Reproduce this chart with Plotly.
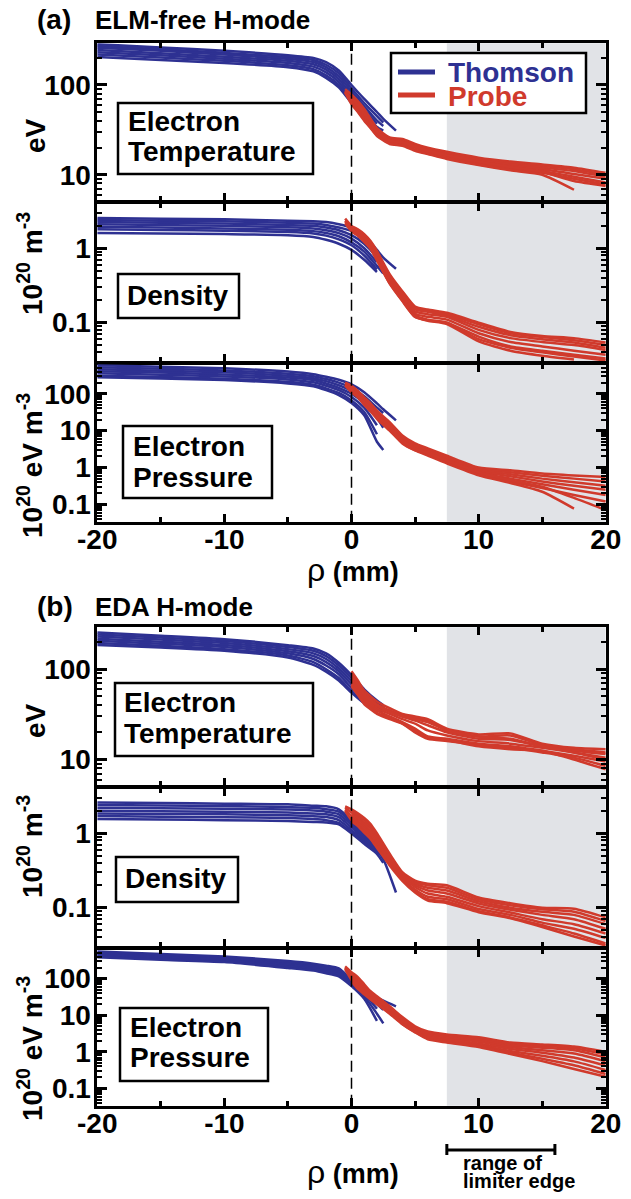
import plotly.graph_objects as go

W, H = 631, 1199
BLUE = '#2E3192'
RED = '#D03A2C'
GRAY = '#E1E3E7'
FONT = 'Liberation Sans'

# ---------------- data ----------------
thomson_x = [-20, -15, -10, -5, -3, -2, -1, 0, 1, 2, 2.5, 3.5]
probe_x = [-0.5, 0, 0.5, 1, 1.5, 2, 3, 4, 5, 6, 7.5, 10, 12.5, 15, 17.5, 20]

# (a) ELM-free H-mode
elm_te_thomson = [
    [285, 262, 240, 215, 200, 180, 145, 100, 70, 50, 42, 31],
    [272, 250, 228, 205, 190, 168, 135, 92, 63, 45, 38, None],
    [260, 240, 218, 196, 180, 158, 125, 85, 58, 40, 35, None],
    [245, 226, 206, 186, 170, 148, 116, 78, 53, 37, None, None],
    [232, 214, 196, 176, 160, 138, 108, 72, 49, 34, 31, None],
    [218, 202, 186, 166, 150, 128, 100, 66, 45, 33, None, None],
    [205, 190, 176, 158, 142, 120, 94, 63, 43, 32, None, None],
]
elm_te_probe = [
    [90, 78, 66, 54, 42, 33, 26, 25, 22, 20, 18, 15.5, 14, 13, 12, 10.5],
    [None, 74, 62, 50, 40, 31, 25, 24, 21.5, 19.5, 17.5, 15, 13.5, 12.5, 11.5, 10],
    [86, 70, 58, 47, 38, 30, 24.5, 23.5, 21, 19, 17, 14.5, 13, 12, 11, 9.5],
    [None, 67, 55, 45, 36, 29, 24, 23, 20.5, 18.5, 16.5, 14, 12.5, 11.5, 10.2, 9],
    [84, 65, 53, 43, 35, 28, 23, 22, 20, 18, 16, 13.5, 12, 11, 9.5, 8.2],
    [None, 63, 51, 41, 34, 27.5, 22.5, 21.5, 19, 17.5, 15.5, 13, 11.5, 10.5, 9, 7.8],
    [82, 61, 50, 40, 33, 27, 22, 21, 18.5, 17, 15, 12.8, 11.2, 10, 6.8, None],
    [None, 72, 60, 48, 39, 30, 24, 23, 20.5, 18.5, 16.5, 14, 12.2, 10.8, 8.5, 7.5],
]
elm_ne_thomson = [
    [2.55, 2.5, 2.45, 2.35, 2.3, 2.25, 2.1, 1.9, 1.5, 0.95, 0.75, 0.53],
    [2.4, 2.35, 2.3, 2.2, 2.15, 2.05, 1.9, 1.7, 1.3, 0.85, None, None],
    [2.25, 2.2, 2.15, 2.05, 2.0, 1.9, 1.75, 1.5, 1.15, 0.75, 0.55, None],
    [2.1, 2.05, 2.0, 1.92, 1.85, 1.75, 1.6, 1.35, 1.0, 0.65, None, None],
    [1.95, 1.9, 1.85, 1.78, 1.7, 1.6, 1.45, 1.2, 0.9, 0.58, 0.46, None],
    [1.8, 1.76, 1.72, 1.65, 1.58, 1.48, 1.32, 1.1, 0.8, 0.52, None, None],
    [1.6, 1.58, 1.55, 1.5, 1.42, 1.3, 1.15, 0.95, 0.7, 0.48, None, None],
]
elm_ne_probe = [
    [2.5, 2.0, 1.8, 1.55, 1.25, 0.92, 0.45, 0.265, 0.165, 0.15, 0.136, 0.1, 0.075, 0.066, 0.062, 0.054],
    [None, 1.95, 1.75, 1.5, 1.2, 0.88, 0.43, 0.255, 0.16, 0.145, 0.13, 0.095, 0.072, 0.064, 0.058, 0.05],
    [2.35, 1.9, 1.7, 1.45, 1.15, 0.84, 0.41, 0.245, 0.152, 0.14, 0.125, 0.088, 0.068, 0.06, 0.054, 0.046],
    [None, 1.85, 1.65, 1.4, 1.1, 0.8, 0.39, 0.23, 0.142, 0.13, 0.12, 0.08, 0.062, 0.055, 0.05, 0.043],
    [2.25, 1.8, 1.6, 1.35, 1.06, 0.76, 0.37, 0.215, 0.132, 0.12, 0.11, 0.072, 0.055, 0.048, 0.042, 0.037],
    [None, 1.75, 1.55, 1.3, 1.02, 0.72, 0.35, 0.205, 0.125, 0.11, 0.1, 0.065, 0.048, 0.042, 0.037, 0.033],
    [2.15, 1.7, 1.5, 1.25, 0.98, 0.69, 0.34, 0.198, 0.12, 0.106, 0.096, 0.056, 0.042, 0.036, 0.032, None],
    [None, 1.68, 1.47, 1.22, 0.99, 0.7, 0.335, 0.195, 0.119, 0.108, 0.1, 0.06, 0.046, 0.04, 0.035, 0.031],
]
elm_pe_thomson = [
    [590, 540, 490, 400, 340, 290, 240, 180, 110, 55, 38, 19],
    [520, 480, 430, 350, 300, 250, 200, 145, 85, 42, 30, None],
    [460, 420, 380, 310, 265, 220, 170, 120, 68, 32, None, None],
    [410, 375, 335, 275, 235, 190, 145, 100, 55, 22, 12, None],
    [360, 330, 295, 245, 205, 165, 125, 82, 42, 14, None, None],
    [310, 285, 255, 210, 175, 140, 105, 66, 32, 8, None, None],
    [280, 260, 235, 190, 160, 125, 92, 56, 26, 5, 3.0, None],
]
elm_pe_probe = [
    [200, 165, 120, 80, 55, 35, 17, 7.4, 4.5, 3.3, 2.1, 1.0, 0.84, 0.69, 0.61, 0.55],
    [None, 155, 112, 75, 51, 32, 15.5, 6.8, 4.1, 3.05, 1.95, 0.93, 0.75, 0.6, 0.5, 0.42],
    [190, 145, 104, 70, 47, 30, 14.2, 6.2, 3.8, 2.85, 1.8, 0.86, 0.66, 0.5, 0.4, 0.32],
    [None, 135, 97, 64, 43, 27, 13, 5.6, 3.5, 2.65, 1.65, 0.79, 0.58, 0.42, 0.32, 0.25],
    [175, 125, 90, 58, 40, 25, 12, 5.1, 3.2, 2.45, 1.5, 0.72, 0.5, 0.35, 0.25, 0.18],
    [None, 115, 83, 52, 36, 23, 11, 4.7, 2.95, 2.25, 1.38, 0.65, 0.42, 0.28, 0.18, 0.12],
    [165, 110, 80, 50, 33, 21, 10, 4.5, 2.9, 2.1, 1.3, 0.62, 0.38, 0.22, 0.077, None],
    [None, 128, 92, 60, 41, 26, 12.5, 5.3, 3.3, 2.5, 1.55, 0.75, 0.45, 0.3, 0.15, 0.07],
]

# (b) EDA H-mode
eda_te_thomson = [
    [255, 235, 215, 185, 170, 150, 118, 86, 60, 45, 40, None],
    [242, 224, 205, 176, 160, 140, 110, 80, 56, 43, 38, None],
    [230, 213, 195, 167, 150, 130, 102, 74, 52, 41, None, None],
    [218, 202, 185, 158, 140, 120, 95, 68, 49, 40, 36, None],
    [207, 192, 176, 150, 130, 110, 88, 62, 46, 38, None, None],
    [195, 182, 167, 142, 120, 100, 80, 57, 43, 37, 34, None],
    [186, 174, 160, 135, 112, 94, 75, 55, 42, 36, None, None],
]
eda_te_probe = [
    [None, 95, 75, 58, 50, 44, 37, 32, 30, 28, 22, 19, 19.5, 15, 13.5, 13],
    [None, 88, 70, 54, 47, 41, 35, 31, 29, 27, 21, 18, 18.5, 14.5, 13, 12],
    [None, 80, 65, 50, 44, 39, 34, 30, 27, 24, 20, 17, 16.5, 14, 12.5, 11.5],
    [None, 76, 62, 48, 42, 37, 32, 28, 25, 21, 18.5, 16, 15, 13.5, 12, 10.5],
    [None, 72, 58, 45, 40, 35, 30, 26, 22, 18, 17, 15, 14, 12.5, 11, 9.5],
    [None, 68, 55, 43, 38, 33, 29, 25, 20, 17, 16, 14.5, 13.5, 12, 10.5, 8.5],
    [None, 85, 68, 52, 45, 40, 34, 30, 28, 26, 21, 18, 17, 14, 12, 10],
    [None, 65, 52, 41, 36, 32, 28, 25, 21, 17.5, 16.5, 14, 13, 12.5, 10, 7.8],
]
eda_ne_thomson = [
    [2.6, 2.55, 2.5, 2.45, 2.35, 2.3, 2.1, 1.5, 1.0, 0.74, 0.58, None],
    [2.4, 2.36, 2.32, 2.25, 2.2, 2.1, 1.95, 1.4, 0.95, 0.7, None, None],
    [2.2, 2.17, 2.14, 2.08, 2.02, 1.95, 1.8, 1.3, 0.9, 0.66, 0.5, None],
    [2.0, 1.98, 1.95, 1.9, 1.85, 1.8, 1.65, 1.2, 0.85, 0.62, None, None],
    [1.85, 1.82, 1.8, 1.75, 1.7, 1.65, 1.5, 1.1, 0.8, 0.58, 0.45, 0.16],
    [1.7, 1.67, 1.64, 1.6, 1.55, 1.5, 1.38, 1.02, 0.75, 0.55, None, None],
    [1.55, 1.53, 1.5, 1.46, 1.42, 1.4, 1.32, 1.0, 0.72, 0.53, 0.4, None],
]
eda_ne_probe = [
    [2.3, 2.1, 1.85, 1.6, 1.33, 1.0, 0.53, 0.3, 0.23, 0.21, 0.2, 0.137, 0.115, 0.1, 0.097, 0.074],
    [None, 2.0, 1.75, 1.5, 1.25, 0.95, 0.5, 0.29, 0.22, 0.2, 0.185, 0.13, 0.108, 0.095, 0.088, 0.066],
    [2.2, 1.9, 1.65, 1.4, 1.17, 0.88, 0.47, 0.28, 0.21, 0.185, 0.17, 0.122, 0.1, 0.088, 0.08, 0.06],
    [None, 1.8, 1.55, 1.32, 1.08, 0.82, 0.44, 0.27, 0.2, 0.17, 0.155, 0.114, 0.094, 0.08, 0.07, 0.052],
    [2.1, 1.7, 1.45, 1.22, 1.0, 0.76, 0.42, 0.26, 0.19, 0.155, 0.14, 0.105, 0.086, 0.07, 0.06, 0.045],
    [None, 1.6, 1.38, 1.15, 0.93, 0.7, 0.4, 0.25, 0.175, 0.14, 0.13, 0.096, 0.08, 0.063, 0.052, 0.039],
    [2.0, 1.5, 1.3, 1.08, 0.86, 0.66, 0.38, 0.24, 0.165, 0.13, 0.12, 0.09, 0.074, 0.058, 0.045, 0.033],
    [None, 1.45, 1.25, 1.02, 0.84, 0.64, 0.37, 0.23, 0.16, 0.125, 0.115, 0.087, 0.072, 0.055, 0.041, 0.031],
]
eda_pe_thomson = [
    [550, 470, 400, 300, 255, 225, 190, 95, 58, 31, 25, 17.5],
    [500, 430, 370, 275, 235, 205, 170, 88, 50, 25, None, None],
    [460, 395, 340, 250, 215, 185, 155, 80, 44, 20, 14, None],
    [430, 370, 320, 232, 198, 170, 140, 74, 38, 15, None, None],
    [400, 345, 300, 215, 182, 155, 128, 68, 33, 11, 6, None],
    [380, 325, 282, 195, 165, 140, 115, 62, 28, 7, None, None],
]
eda_pe_probe = [
    [215, 150, 110, 70, 45, 33, 17.5, 8.9, 5.0, 3.6, 3.0, 2.5, 1.8, 1.6, 1.4, 1.0],
    [None, 140, 100, 64, 42, 30, 16, 8.2, 4.6, 3.3, 2.8, 2.3, 1.65, 1.45, 1.25, 0.85],
    [200, 130, 92, 58, 39, 28, 15, 7.6, 4.3, 3.1, 2.6, 2.1, 1.5, 1.3, 1.1, 0.7],
    [None, 120, 84, 53, 36, 26, 14, 7.0, 4.0, 2.9, 2.4, 1.9, 1.35, 1.1, 0.9, 0.55],
    [190, 110, 76, 48, 33, 24, 13, 6.5, 3.8, 2.7, 2.2, 1.7, 1.2, 0.95, 0.7, 0.42],
    [None, 100, 68, 44, 30, 22, 12, 6.1, 3.6, 2.5, 2.0, 1.55, 1.05, 0.78, 0.55, 0.32],
    [180, 92, 60, 40, 28, 21, 11.5, 5.8, 3.5, 2.35, 1.9, 1.45, 0.95, 0.65, 0.43, 0.25],
    [None, 85, 52, 37, 27, 20, 11, 5.7, 3.4, 2.2, 1.8, 1.35, 0.87, 0.56, 0.34, 0.21],
]

x_ticks = [-20, -10, 0, 10, 20]
x_ticklabels = ['-20', '-10', '0', '10', '20']
x_minor_ticks = [-15, -5, 5, 15]
te_ticks, te_labels = [10, 100], ['10', '100']
ne_ticks, ne_labels = [0.1, 1], ['0.1', '1']
pe_ticks, pe_labels = [0.1, 1, 10, 100], ['0.1', '1', '10', '100']
limiter_band = [7.5, 20]
limiter_edge_range = [7.5, 16]


def minor_log(lo, hi):
    vals = []
    for e in range(-3, 4):
        for m in range(2, 10):
            v = m * 10 ** e
            if lo <= v <= hi:
                vals.append(round(v, 6))
    return vals


def px(x):
    return x / W


def py(y):
    return 1 - y / H


LW = 2.5
HALF = LW / 2
XDOM = [px(96 + HALF), px(607 - HALF)]
TE_RANGE = [0.71, 2.465]
NE_RANGE = [-1.525, 0.605]
PE_RANGE = [-1.47, 2.80]

panels = [
    # thomson, probe, range, ticks, labels, top_px, bottom_px
    (elm_te_thomson, elm_te_probe, TE_RANGE, te_ticks, te_labels, 42, 202),
    (elm_ne_thomson, elm_ne_probe, NE_RANGE, ne_ticks, ne_labels, 202, 363),
    (elm_pe_thomson, elm_pe_probe, PE_RANGE, pe_ticks, pe_labels, 363, 523),
    (eda_te_thomson, eda_te_probe, TE_RANGE, te_ticks, te_labels, 626, 787),
    (eda_ne_thomson, eda_ne_probe, NE_RANGE, ne_ticks, ne_labels, 787, 948),
    (eda_pe_thomson, eda_pe_probe, PE_RANGE, pe_ticks, pe_labels, 948, 1107),
]

fig = go.Figure()
shapes = []
annotations = []
layout = dict(
    width=W, height=H, margin=dict(l=0, r=0, t=0, b=0, pad=0, autoexpand=False),
    paper_bgcolor='white', plot_bgcolor='white', showlegend=False,
    font=dict(family=FONT, color='black'),
)

tickfont = dict(family=FONT, size=28, color='black', weight='bold')

for i, (th, pr, yr, yt, yl, top, bot) in enumerate(panels, start=1):
    xa = 'x' if i == 1 else f'x{i}'
    ya = 'y' if i == 1 else f'y{i}'
    for c in th:
        fig.add_trace(go.Scatter(x=thomson_x, y=c, mode='lines', xaxis=xa, yaxis=ya,
                                 line=dict(color=BLUE, width=2.5, shape='spline', smoothing=0.6),
                                 connectgaps=False, hoverinfo='skip'))
    for c in pr:
        fig.add_trace(go.Scatter(x=probe_x, y=c, mode='lines', xaxis=xa, yaxis=ya,
                                 line=dict(color=RED, width=2.5, shape='spline', smoothing=0.6),
                                 connectgaps=False, hoverinfo='skip'))
    layout['xaxis' if i == 1 else f'xaxis{i}'] = dict(
        domain=XDOM, range=[-20, 20], anchor=ya, showgrid=False, zeroline=False,
        showline=True, linecolor='black', linewidth=LW, mirror='allticks',
        ticks='inside', tickvals=x_ticks, ticktext=x_ticklabels, ticklen=8,
        tickwidth=2.5, tickcolor='black', automargin=False,
        minor=dict(tickvals=x_minor_ticks, ticklen=5, tickwidth=2.5, ticks='inside',
                   tickcolor='black', showgrid=False),
        showticklabels=(i in (3, 6)), tickfont=tickfont, ticklabelstandoff=-9,
    )
    lo, hi = 10 ** yr[0], 10 ** yr[1]
    layout['yaxis' if i == 1 else f'yaxis{i}'] = dict(
        domain=[py(bot - HALF), py(top + HALF)], type='log', range=yr, anchor=xa,
        showgrid=False, zeroline=False, showline=True, linecolor='black',
        linewidth=LW, mirror='allticks', ticks='inside', tickvals=yt, ticktext=yl,
        ticklen=10, tickwidth=2.5, tickcolor='black', automargin=False,
        minor=dict(tickvals=minor_log(lo, hi), ticklen=5, tickwidth=2, ticks='inside',
                   tickcolor='black', showgrid=False),
        tickfont=tickfont, ticklabelstandoff=-2,
    )
    # grey limiter band
    shapes.append(dict(type='rect', xref=xa, yref=f'{ya} domain', x0=limiter_band[0],
                       x1=limiter_band[1], y0=0, y1=1, fillcolor=GRAY, line=dict(width=0),
                       layer='below'))
    # separatrix dashed line
    shapes.append(dict(type='line', xref=xa, yref=f'{ya} domain', x0=0, x1=0, y0=0, y1=1,
                       line=dict(color='black', width=1.5, dash='11px,6px'), layer='above'))

BOXFS = 28


def label_box(x0, y0, x1, y1, lines):
    shapes.append(dict(type='rect', xref='paper', yref='paper', x0=px(x0), x1=px(x1),
                       y0=py(y1), y1=py(y0), fillcolor='white',
                       line=dict(color='black', width=2.5), layer='above'))
    for text, lx, base in lines:
        annotations.append(dict(text=f'<b>{text}</b>', xref='paper', yref='paper',
                                x=px(lx), y=py(base - 0.35 * BOXFS), xanchor='left',
                                yanchor='middle', showarrow=False,
                                font=dict(family=FONT, size=BOXFS, color='black')))


label_box(118, 103, 313, 174, [('Electron', 126, 131), ('Temperature', 126, 161)])
label_box(118, 274, 239, 318, [('Density', 125, 305)])
label_box(123, 426, 272, 498, [('Electron', 131, 456), ('Pressure', 131, 487)])
label_box(115, 683, 313, 756, [('Electron', 122, 712), ('Temperature', 122, 743)])
label_box(116, 857, 238, 902, [('Density', 123, 888)])
label_box(120, 1008, 268, 1081, [('Electron', 128, 1037), ('Pressure', 128, 1067)])

# legend
shapes.append(dict(type='rect', xref='paper', yref='paper', x0=px(391), x1=px(586),
                   y0=py(113), y1=py(53), fillcolor='white',
                   line=dict(color='black', width=2.5), layer='above'))
for color, yy in ((BLUE, 72), (RED, 95)):
    shapes.append(dict(type='line', xref='paper', yref='paper', x0=px(398), x1=px(435),
                       y0=py(yy), y1=py(yy), line=dict(color=color, width=5), layer='above'))
for text, color, base in (('Thomson', BLUE, 82), ('Probe', RED, 106)):
    annotations.append(dict(text=f'<b>{text}</b>', xref='paper', yref='paper', x=px(446),
                            y=py(base - 0.35 * 28), xanchor='left', yanchor='middle',
                            showarrow=False, font=dict(family=FONT, size=28, color=color)))

# panel titles
for tag, title, base in (('(a)', 'ELM-free H-mode', 29.5), ('(b)', 'EDA H-mode', 616)):
    annotations.append(dict(text=f'<b>{tag}</b>', xref='paper', yref='paper', x=px(35),
                            y=py(base - 0.35 * 28), xanchor='left', yanchor='middle',
                            showarrow=False, font=dict(family=FONT, size=28, color='black')))
    annotations.append(dict(text=f'<b>{title}</b>', xref='paper', yref='paper', x=px(93),
                            y=py(base - 0.35 * 26), xanchor='left', yanchor='middle',
                            showarrow=False, font=dict(family=FONT, size=26, color='black')))

# y-axis titles
for text, cx, cy in (('eV', 35, 136), ('10<sup>20</sup> m<sup>-3</sup>', 30, 264),
                     ('10<sup>20</sup> eV m<sup>-3</sup>', 30, 466),
                     ('eV', 35, 721), ('10<sup>20</sup> m<sup>-3</sup>', 30, 847),
                     ('10<sup>20</sup> eV m<sup>-3</sup>', 30, 1049)):
    annotations.append(dict(text=f'<b>{text}</b>', xref='paper', yref='paper', x=px(cx),
                            y=py(cy), xanchor='center', yanchor='middle', textangle=-90,
                            showarrow=False, font=dict(family=FONT, size=28, color='black')))

# x-axis titles
for cy in (570, 1172):
    annotations.append(dict(text='<span style="font-size:32px">ρ</span> <b>(mm)</b>',
                            xref='paper', yref='paper', x=px(353), y=py(cy),
                            xanchor='center', yanchor='middle', showarrow=False,
                            font=dict(family=FONT, size=27, color='black')))

# range of limiter edge
shapes.append(dict(type='line', xref='x6', yref='paper', x0=limiter_edge_range[0],
                   x1=limiter_edge_range[1], y0=py(1150), y1=py(1150),
                   line=dict(color='black', width=3)))
for xv in limiter_edge_range:
    shapes.append(dict(type='line', xref='x6', yref='paper', x0=xv, x1=xv,
                       y0=py(1155), y1=py(1144), line=dict(color='black', width=3)))
for text, base in (('range of', 1170), ('limiter edge', 1188)):
    annotations.append(dict(text=f'<b>{text}</b>', xref='paper', yref='paper', x=px(461),
                            y=py(base - 0.35 * 20), xanchor='left', yanchor='middle',
                            showarrow=False, font=dict(family=FONT, size=20, color='black')))

layout['shapes'] = shapes
layout['annotations'] = annotations
fig.update_layout(**layout)
fig.write_html('out.html')
